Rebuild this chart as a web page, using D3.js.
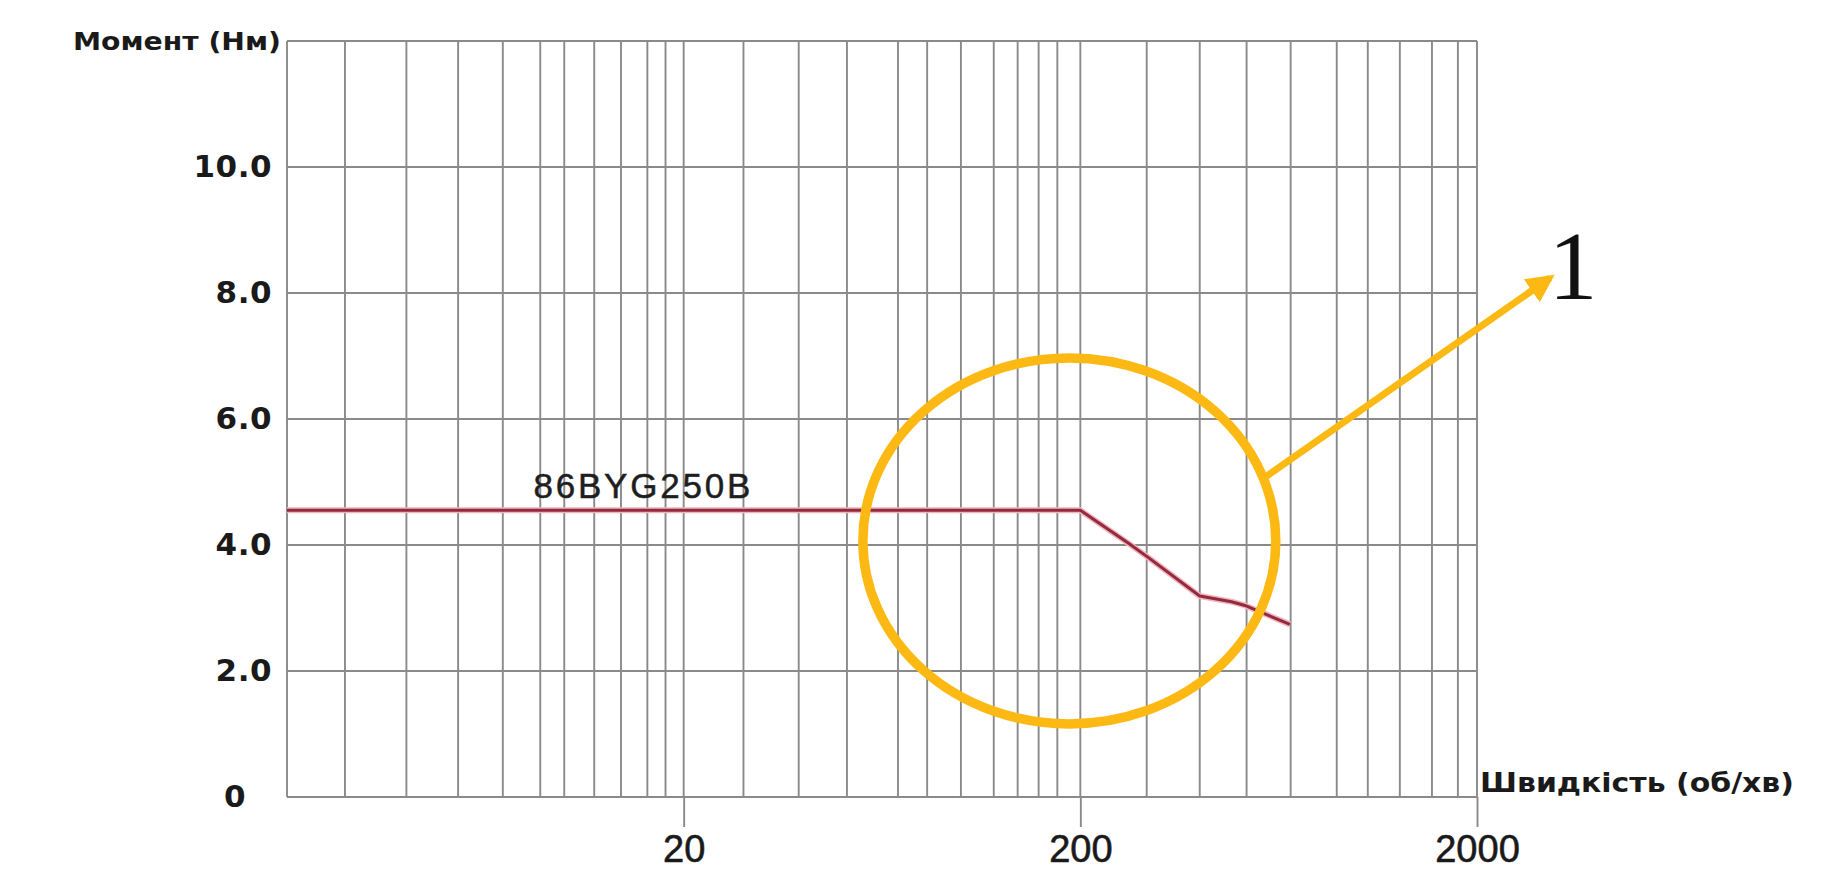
<!DOCTYPE html>
<html>
<head>
<meta charset="utf-8">
<script src="https://cdn.jsdelivr.net/npm/d3@7"></script>
<style>
  body { margin: 0; background: #fff; }
  svg { display: block; }
</style>
</head>
<body>
<div id="chart"></div>
<script>
// gridline speeds (rpm) - the grid is not a clean log grid
const speedGrid = [2, 2.8, 4.0, 5.4, 7.0, 8.7, 10, 11.9, 13.9, 16.2, 18.0, 20,
    28.3, 39, 51.6, 69.4, 82.2, 100, 121, 139, 157, 175, 200,
    294, 400, 525, 678, 886, 1061, 1278, 1540, 1790, 2000];
const torqueGrid = [0, 2, 4, 6, 8, 10, 12];
const torqueTicks = [0, 2, 4, 6, 8, 10];
const speedTicks = [20, 200, 2000];

// curve 86BYG250B
const curveSpeed = [2, 200, 264, 297, 400, 481, 520, 675];
const curveTorque = [4.55, 4.55, 4.03, 3.8, 3.19, 3.1, 3.04, 2.74];

const width = 1839, height = 871;
const margin = {top: 41, right: 362, bottom: 74, left: 287};

const svg = d3.select('#chart').append('svg')
    .attr('width', width).attr('height', height);

svg.append('rect').attr('width', width).attr('height', height).attr('fill', '#fff');

const x = d3.scaleLog().domain([2, 2000]).range([margin.left, width - margin.right]);
const y = d3.scaleLinear().domain([0, 12]).range([height - margin.bottom, margin.top]);

const grid = svg.append('g').attr('class', 'grid');

grid.selectAll('line.v')
    .data(speedGrid)
    .enter().append('line')
    .attr('class', 'v')
    .attr('x1', d => x(d)).attr('x2', d => x(d))
    .attr('y1', y(0)).attr('y2', y(12))
    .attr('stroke', '#8a8a8a')
    .attr('stroke-width', 1.9);

grid.selectAll('line.h')
    .data(torqueGrid)
    .enter().append('line')
    .attr('class', 'h')
    .attr('x1', x(2)).attr('x2', x(2000))
    .attr('y1', d => y(d)).attr('y2', d => y(d))
    .attr('stroke', '#8a8a8a')
    .attr('stroke-width', 1.9);

// x axis - only the decade labels with long ticks
const axisX = svg.append('g')
    .attr('transform', 'translate(0,' + y(0) + ')')
    .call(d3.axisBottom(x).tickValues(speedTicks).tickSize(30).tickPadding(8).tickFormat(d3.format('d')));
axisX.select('.domain').remove();
axisX.selectAll('line').attr('stroke', '#8a8a8a').attr('stroke-width', 1.9);
axisX.selectAll('text')
    .attr('fill', '#1a1a1a')
    .style('font-family', '"Liberation Sans", Arial, sans-serif')
    .style('font-size', '38px')
    .style('stroke', '#1a1a1a')
    .style('stroke-width', '0.6px');

// y axis
const axisY = svg.append('g')
    .attr('transform', 'translate(' + x(2) + ',0)')
    .call(d3.axisLeft(y).tickValues(torqueTicks).tickSize(0).tickPadding(15)
        .tickFormat(d => d === 0 ? '0' : d.toFixed(1)));
axisY.select('.domain').remove();
axisY.selectAll('text')
    .attr('fill', '#1a1a1a')
    .style('font-family', '"DejaVu Sans", sans-serif')
    .style('font-weight', 'bold')
    .style('font-size', '31px')
    .style('letter-spacing', '0.5px');
axisY.selectAll('.tick').filter(d => d === 0).select('text').attr('x', -41);

// axis titles
svg.append('text')
    .attr('x', x(2) - 6).attr('y', y(12) + 9)
    .attr('text-anchor', 'end')
    .attr('textLength', 208).attr('lengthAdjust', 'spacingAndGlyphs')
    .style('font-family', '"DejaVu Sans", sans-serif')
    .style('font-weight', 'bold').style('font-size', '25px')
    .attr('fill', '#1a1a1a')
    .text('Момент (Нм)');

svg.append('text')
    .attr('x', x(2000) + 3).attr('y', y(0) - 5)
    .attr('textLength', 314).attr('lengthAdjust', 'spacingAndGlyphs')
    .style('font-family', '"DejaVu Sans", sans-serif')
    .style('font-weight', 'bold').style('font-size', '27px')
    .attr('fill', '#1a1a1a')
    .text('Швидкість (об/хв)');

// torque curve
const curve = curveSpeed.map((s, i) => ({speed: s, torque: curveTorque[i]}));
const line = d3.line().x(d => x(d.speed)).y(d => y(d.torque));

svg.append('path')
    .datum(curve)
    .attr('d', line)
    .attr('fill', 'none')
    .attr('stroke', '#f0b4bd')
    .attr('stroke-width', 6)
    .attr('stroke-linejoin', 'round');
svg.append('path')
    .datum(curve)
    .attr('d', line)
    .attr('fill', 'none')
    .attr('stroke', '#932a3e')
    .attr('stroke-width', 3)
    .attr('stroke-linejoin', 'round');

svg.append('text')
    .attr('x', x(8.36)).attr('y', y(4.74))
    .attr('textLength', 217).attr('lengthAdjust', 'spacing')
    .style('font-family', '"Liberation Sans", Arial, sans-serif')
    .style('font-size', '35px')
    .style('stroke', '#1e1e1e')
    .style('stroke-width', '0.5px')
    .attr('fill', '#1e1e1e')
    .text('86BYG250B');

// yellow annotation: ellipse + arrow + "1"
const yellow = '#fdb913';
const ex0 = x(56.6), ex1 = x(622), ey0 = y(6.97), ey1 = y(1.16);
svg.append('ellipse')
    .attr('cx', (ex0 + ex1) / 2).attr('cy', (ey0 + ey1) / 2)
    .attr('rx', (ex1 - ex0) / 2).attr('ry', (ey1 - ey0) / 2)
    .attr('fill', 'none')
    .attr('stroke', yellow)
    .attr('stroke-width', 9.5);

svg.append('defs').append('marker')
    .attr('id', 'arrowhead')
    .attr('viewBox', '0 0 10 10')
    .attr('refX', 8).attr('refY', 5)
    .attr('markerWidth', 4).attr('markerHeight', 4)
    .attr('orient', 'auto')
    .append('path')
    .attr('d', 'M0,0 L10,5 L0,10 Z')
    .attr('fill', yellow);

svg.append('line')
    .attr('x1', x(586)).attr('y1', y(5.08))
    .attr('x2', x(3057)).attr('y2', y(8.24))
    .attr('stroke', yellow)
    .attr('stroke-width', 7)
    .attr('marker-end', 'url(#arrowhead)');

svg.append('text')
    .attr('x', x(3494)).attr('y', y(7.9))
    .attr('text-anchor', 'middle')
    .style('font-family', '"Liberation Serif", "Times New Roman", serif')
    .style('font-size', '98px')
    .attr('fill', '#111')
    .text('1');
</script>
</body>
</html>
